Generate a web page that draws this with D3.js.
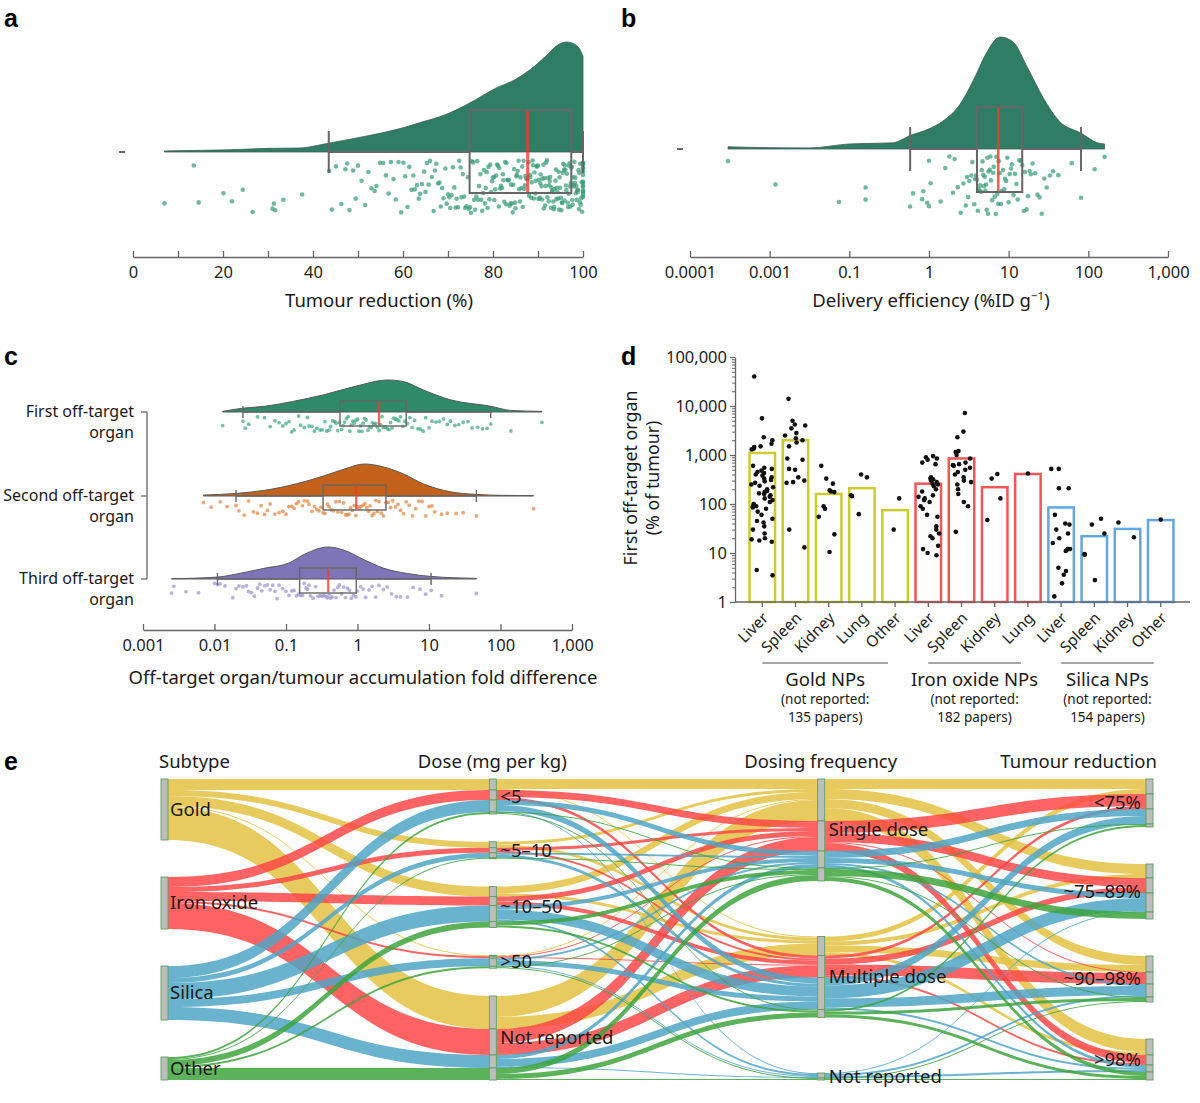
<!DOCTYPE html>
<html><head><meta charset="utf-8">
<script src="https://cdn.jsdelivr.net/npm/d3@7"></script>
<style>
body{margin:0;background:#fff}
svg text{font-family:'Noto Sans','DejaVu Sans',sans-serif;fill:#1a1a1a}
</style></head>
<body><svg id="fig" width="1200" height="1103"></svg>
<script>
// ---------------- DATA ----------------
// Panel a: tumour reduction (%)
const tumourReduction = [7.0,13.5,14.6,20.1,22.0,24.4,26.6,31.0,31.3,31.6,33.4,37.6,
43.6,44.2,45.1,46.3,47.2,47.6,48.1,48.9,49.5,50.0,50.8,51.6,52.3,53.0,53.7,54.1,54.9,55.6,56.2,56.8,57.3,57.9,58.4,59.0,59.6,
60.1,60.5,61.0,61.4,61.9,62.3,62.6,63.1,63.5,63.8,64.2,64.7,65.0,65.3,65.7,66.0,66.4,66.8,67.1,67.4,67.8,68.1,68.4,68.7,69.0,69.4,69.7,70.0,70.3,70.5,70.8,71.1,71.4,71.7,71.9,72.2,72.5,72.8,73.0,73.3,73.6,73.8,74.1,74.4,74.6,74.9,
75.1,75.3,75.6,75.8,76.0,76.3,76.5,76.7,76.9,77.2,77.4,77.6,77.8,78.0,78.2,78.4,78.6,78.8,79.0,79.2,79.4,79.6,79.8,80.0,80.2,80.3,80.5,80.7,80.9,81.1,81.3,81.4,81.6,81.8,82.0,82.2,82.3,82.5,82.7,82.9,83.0,83.2,83.4,83.5,83.7,83.9,84.0,84.2,84.4,84.5,84.7,84.9,85.0,85.2,85.3,85.5,85.7,85.8,86.0,86.1,86.3,86.5,86.6,86.8,86.9,87.1,87.2,87.4,87.6,87.7,87.9,88.0,88.2,88.3,88.5,88.6,88.8,88.9,89.1,89.2,89.4,89.5,89.7,89.8,
90.0,90.1,90.2,90.4,90.5,90.6,90.8,90.9,91.0,91.2,91.3,91.4,91.6,91.7,91.8,92.0,92.1,92.2,92.4,92.5,92.6,92.7,92.9,93.0,93.1,93.2,93.4,93.5,93.6,93.7,93.9,94.0,94.1,94.2,94.3,94.5,94.6,94.7,94.8,94.9,95.1,95.2,95.3,95.4,95.5,95.6,95.8,95.9,96.0,96.1,96.2,96.3,96.4,96.6,96.7,96.8,96.9,97.0,97.1,97.2,97.3,97.4,97.5,97.6,97.7,97.8,97.9,98.0,98.1,98.2,98.3,98.4,98.5,98.6,98.7,98.8,98.9,99.0,99.1,99.2,99.3,99.4,99.5,99.6,99.7,99.8,99.9,100,100,100,100,100,100,100,100,100,100,100,100,100,100,100,100];
const densityA = [[7,0.01],[15,0.015],[21.5,0.02],[30,0.033],[37,0.036],[41,0.06],[43.5,0.08],[50,0.13],[56,0.18],[60,0.22],[64,0.27],[69.5,0.34],[74.6,0.44],[80.6,0.58],[85,0.66],[88.3,0.75],[91.7,0.87],[94.3,0.97],[96.4,1.0],[98.1,0.98],[99.2,0.94],[100,0.87]];
const boxA = [43.5, 74.8, 87.7, 97.4, 100]; // whiskerLow, q1, median, q3, whiskerHigh
const aTicks = [0,10,20,30,40,50,60,70,80,90,100];
const aTickLabels = ["0","","20","","40","","60","","80","","100"];

// Panel b: delivery efficiency (%ID g-1)
const deliveryEff = [0.0003,0.0014,0.055,0.16,0.16,0.58,0.63,0.82,0.85,0.95,1.0,1.0,1.05,1.4,1.6,1.8,2.0,2.1,2.3,2.5,2.7,2.9,3.0,3.1,3.2,3.4,3.5,3.7,3.8,3.9,4.0,4.1,4.2,4.3,4.4,4.5,4.6,4.7,4.8,4.9,5.0,5.1,5.2,5.3,5.4,5.5,5.6,5.8,5.9,6.0,6.2,6.4,6.5,6.7,6.9,7.0,7.2,7.4,7.5,7.7,8.0,8.2,8.5,8.8,9.0,9.3,9.6,10.0,10.3,10.7,11.0,11.5,12.0,12.5,13.0,13.6,14.2,14.8,15.5,16.0,16.8,17.5,18.3,19.0,20.0,21.5,23.0,24.5,26.0,28.0,30.0,33.0,36.0,42.0,62.0,81.0,120.0,160.0];
const densityB = [[0.0003,0.02],[0.001,0.012],[0.01,0.01],[0.1,0.045],[0.35,0.055],[0.58,0.12],[1,0.18],[1.5,0.25],[2.4,0.39],[3.7,0.63],[5.1,0.84],[7.8,1.0],[11.2,0.96],[17.4,0.72],[27,0.46],[43,0.25],[82,0.14],[130,0.055],[160,0.045]];
const boxB = [0.58, 4.0, 7.4, 14.8, 81];
const bTicks = [0.0001,0.001,0.1,1,10,100,1000];
const bTickLabels = ["0.0001","0.001","0.1","1","10","100","1,000"];

// Panel c: off-target organ / tumour fold difference
const cRows = ["First off-target|organ","Second off-target|organ","Third off-target|organ"];
const firstOrgan = [0.013,0.025,0.027,0.03,0.04,0.05,0.06,0.07,0.08,0.09,0.1,0.11,0.12,0.13,0.15,0.16,0.18,0.2,0.21,0.23,0.25,0.27,0.3,0.32,0.35,0.37,0.4,0.42,0.45,0.48,0.5,0.53,0.56,0.6,0.63,0.66,0.7,0.74,0.78,0.82,0.86,0.9,0.95,1.0,1.05,1.1,1.15,1.2,1.26,1.32,1.4,1.47,1.55,1.62,1.7,1.8,1.9,2.0,2.1,2.2,2.3,2.45,2.6,2.75,2.9,3.05,3.2,3.4,3.6,3.8,4.0,4.3,4.6,5.0,5.4,5.8,6.3,7.0,7.6,8.3,9.0,10,11,12.5,14,16,18,20,23,26,30,35,40,48,56,65,73,140,380];
const secondOrgan = [0.007,0.009,0.012,0.015,0.02,0.022,0.026,0.03,0.035,0.04,0.045,0.05,0.055,0.06,0.07,0.08,0.09,0.1,0.11,0.12,0.13,0.14,0.15,0.17,0.18,0.2,0.21,0.23,0.25,0.27,0.29,0.31,0.33,0.35,0.38,0.4,0.43,0.46,0.5,0.53,0.56,0.6,0.64,0.68,0.72,0.76,0.8,0.85,0.9,0.95,1.0,1.06,1.12,1.2,1.27,1.35,1.43,1.5,1.6,1.7,1.8,1.9,2.0,2.15,2.3,2.5,2.7,2.9,3.1,3.4,3.7,4.0,4.4,4.8,5.3,5.9,6.5,7.2,8.0,9.0,10,11,12,15,18,24,30,46,290];
const thirdOrgan = [0.0025,0.0027,0.004,0.006,0.01,0.011,0.012,0.014,0.018,0.02,0.022,0.025,0.028,0.03,0.033,0.036,0.04,0.043,0.046,0.05,0.055,0.06,0.065,0.07,0.075,0.08,0.09,0.1,0.11,0.12,0.13,0.14,0.15,0.16,0.17,0.18,0.19,0.2,0.21,0.22,0.24,0.26,0.28,0.3,0.32,0.34,0.36,0.38,0.4,0.42,0.44,0.47,0.5,0.53,0.56,0.6,0.64,0.68,0.72,0.77,0.82,0.88,0.95,1.0,1.1,1.2,1.3,1.45,1.6,1.8,2.0,2.3,2.6,3.0,3.5,4.0,5.0,6.0,7.5,9.0,10.7,15,46];
const densC1 = [[0.013,0.02],[0.025,0.12],[0.051,0.18],[0.124,0.33],[0.34,0.54],[0.96,0.81],[2.65,1.0],[4.4,0.95],[8.3,0.69],[20,0.38],[73,0.18],[138,0.05],[380,0.02]];
const densC2 = [[0.007,0.03],[0.02,0.08],[0.051,0.18],[0.14,0.38],[0.35,0.64],[0.65,0.84],[1.24,1.0],[2.3,0.91],[4.4,0.69],[8.3,0.38],[20,0.13],[46,0.05],[107,0.02],[290,0.01]];
const densC3 = [[0.0025,0.01],[0.011,0.06],[0.023,0.18],[0.051,0.34],[0.11,0.5],[0.18,0.77],[0.39,1.0],[0.65,0.9],[1.24,0.6],[2.3,0.34],[5,0.17],[10.7,0.08],[46,0.02]];
const boxC = [[0.025,0.57,2.0,4.8,73],[0.02,0.33,0.96,2.5,46],[0.011,0.155,0.39,0.96,10.7]];
const cTicks = [0.001,0.01,0.1,1,10,100,1000];
const cTickLabels = ["0.001","0.01","0.1","1","10","100","1,000"];

// Panel d: first off-target organ (% of tumour)
const organs = ["Liver","Spleen","Kidney","Lung","Other","Liver","Spleen","Kidney","Lung","Liver","Spleen","Kidney","Other"];
const barGroup = [0,0,0,0,0,1,1,1,1,2,2,2,2];
const barValues = [1100,2000,160,210,75,260,850,220,410,85,22,31,47];
const groupNames = ["Gold NPs","Iron oxide NPs","Silica NPs"];
const groupNotReported = [135,182,154];
const dotsGoldLiver = [40000,5600,2300,2000,1700,1500,1450,1350,1300,600,550,520,480,450,430,400,380,350,330,310,290,270,250,235,220,200,185,175,165,160,150,140,130,120,110,100,95,90,88,85,80,70,60,50,45,42,35,30,25,20,19,18,17,4.5,3.5];
const dotsGoldSpleen = [14000,5000,4200,4000,3500,2800,2500,2200,2000,1800,1500,850,800,520,500,350,300,280,270,30,13];
const dotsGoldKidney = [600,330,260,190,180,175,90,80,55,24,10.5];
const dotsGoldLung = [400,350,150,145,62];
const dotsGoldOther = [130,30];
const dotsIronLiver = [950,900,850,800,700,650,350,330,320,300,280,260,250,230,200,180,150,140,130,120,110,90,80,60,55,35,30,25,22,20,14,12,10,9];
const dotsIronSpleen = [7200,3000,2300,1200,1150,1000,850,700,650,620,600,550,500,450,400,350,300,280,250,200,160,110,90,27];
const dotsIronKidney = [410,330,130,47];
const dotsIronLung = [420];
const dotsSilicaLiver = [520,520,210,210,60,40,38,30,25,20,16,12,12,12,11,5,4.3,3.6,2.4,1.3];
const dotsSilicaSpleen = [50,38,25,9.5,9.2,2.8];
const dotsSilicaKidney = [42,21];
const dotsSilicaOther = [48];
const barDots = [dotsGoldLiver,dotsGoldSpleen,dotsGoldKidney,dotsGoldLung,dotsGoldOther,dotsIronLiver,dotsIronSpleen,dotsIronKidney,dotsIronLung,dotsSilicaLiver,dotsSilicaSpleen,dotsSilicaKidney,dotsSilicaOther];
const dTicks = [1,10,100,1000,10000,100000];
const dTickLabels = ["1","10","100","1,000","10,000","100,000"];

// Panel e: alluvial diagram
const subtypes = ["Gold","Iron oxide","Silica","Other"];
const doses = ["<5","~5–10","~10–50",">50","Not reported"];
const freqs = ["Single dose","Multiple dose","Not reported"];
const reductions = ["<75%","~75–89%","~90–98%",">98%"];
const axisTitles = ["Subtype","Dose (mg per kg)","Dosing frequency","Tumour reduction"];
// [doseIdx, freqIdx, reductionIdx, count]
const goldFlows = [[0,0,0,9],[0,0,1,1],[0,1,3,1],[1,0,2,3],[1,1,1,3],[2,0,1,4],[2,1,2,3],[2,0,3,3],[3,0,0,1],[4,0,3,10],[4,0,2,6],[4,0,1,5],[4,1,2,4],[4,1,0,5],[4,1,1,1],[4,1,3,2]];
const ironFlows = [[0,0,0,6],[0,1,1,3],[0,0,3,1],[1,0,1,3],[1,1,3,2],[2,0,0,4],[2,1,2,4],[2,0,3,1],[3,0,2,1],[3,1,1,1],[4,0,1,6],[4,1,2,7],[4,0,3,6],[4,0,0,2],[4,1,0,3],[4,1,1,2]];
const silicaFlows = [[0,0,0,5],[0,1,1,5],[0,2,2,1],[0,1,3,1],[1,1,1,3],[1,0,2,2],[2,1,0,6],[2,0,1,4],[2,1,2,4],[2,2,3,2],[3,1,1,4],[3,0,0,2],[3,2,2,1],[3,1,3,1],[4,1,2,5],[4,0,3,3],[4,1,0,2],[4,2,1,1],[4,1,1,1],[4,0,1,1]];
const otherFlows = [[0,0,1,1],[0,1,3,1],[1,0,0,1],[2,0,1,3],[2,1,3,2],[2,0,2,1],[3,0,1,1],[3,2,3,1],[4,0,3,4],[4,1,2,3],[4,0,1,2],[4,1,0,2],[4,2,2,1]];

// ---------------- DRAWING ----------------
const svg = d3.select("#fig");
const GREY = "#666";
// deterministic jitter (positions only)
const hash = (i, s) => { const v = Math.sin(i * 127.1 + s * 311.7) * 43758.5453; return v - Math.floor(v); };

function panelLabel(t, x, y) {
  svg.append("text").attr("x", x).attr("y", y).text(t)
    .style("font-family", "'Liberation Sans',Arial,sans-serif").style("font-weight", "bold").style("font-size", "25px").style("fill", "#000");
}
function styleAxis(g, fs) {
  g.select(".domain").attr("stroke", GREY).attr("stroke-width", 1.3);
  g.selectAll(".tick line").attr("stroke", GREY).attr("stroke-width", 1.3);
  g.selectAll(".tick text").style("font-size", fs + "px").style("fill", "#222");
}

function raincloud(x, dens, box, vals, base, peak, opts) {
  const yD = d3.scaleLinear().domain([0, 1]).range([base, base - peak]);
  const area = d3.area().x(d => x(d[0])).y0(base).y1(d => yD(d[1])).curve(d3.curveMonotoneX);
  svg.append("path").datum(dens).attr("d", area).attr("fill", opts.fill)
    .attr("stroke", opts.outline).attr("stroke-width", opts.outlineW);
  svg.append("g").selectAll("circle").data(vals).join("circle")
    .attr("cx", d => x(d))
    .attr("cy", (d, i) => base + opts.dotTop + hash(i, opts.seed) * (opts.dotBot - opts.dotTop))
    .attr("r", opts.r).attr("fill", opts.dot);
  const [wl, q1, med, q3, wh] = box;
  const g = svg.append("g").attr("stroke", GREY).attr("fill", "none").attr("stroke-width", opts.boxW);
  g.append("rect").attr("x", x(q1)).attr("y", base - opts.boxUp).attr("width", x(q3) - x(q1)).attr("height", opts.boxUp + opts.boxDown);
  g.append("line").attr("x1", x(wl)).attr("x2", x(q1)).attr("y1", base).attr("y2", base);
  g.append("line").attr("x1", x(q3)).attr("x2", x(wh)).attr("y1", base).attr("y2", base);
  [wl, wh].forEach(w => g.append("line").attr("x1", x(w)).attr("x2", x(w)).attr("y1", base - opts.whisk).attr("y2", base + opts.whisk));
  svg.append("line").attr("x1", x(med)).attr("x2", x(med)).attr("y1", base - opts.boxUp + 1).attr("y2", base + opts.boxDown - 1)
    .attr("stroke", "#ee3b30").attr("stroke-opacity", 0.8).attr("stroke-width", opts.medW);
}

// ----- Panel a -----
panelLabel("a", 4, 27);
const ax = d3.scaleLinear().domain([0, 100]).range([133, 583]);
raincloud(ax, densityA, boxA, tumourReduction, 152, 110, {
  fill: "#2f7d64", outline: "#3f5f55", outlineW: 0.8, dot: "rgba(58,158,120,0.72)", r: 2.3, seed: 1,
  dotTop: 8, dotBot: 61, boxUp: 42, boxDown: 41, whisk: 21, boxW: 2, medW: 3
});
svg.append("line").attr("x1", 119).attr("x2", 125).attr("y1", 152).attr("y2", 152).attr("stroke", "#333").attr("stroke-width", 1.5);
const gAx = svg.append("g").attr("transform", "translate(0,257)")
  .call(d3.axisBottom(ax).tickValues(aTicks).tickSizeInner(-6).tickSizeOuter(0).tickPadding(9).tickFormat((d, i) => aTickLabels[i]));
styleAxis(gAx, 16.5);
svg.append("text").attr("x", 379).attr("y", 307).attr("text-anchor", "middle").style("font-size", "18.5px").text("Tumour reduction (%)");

// ----- Panel b -----
panelLabel("b", 621, 27);
const bx = d3.scaleLog().domain(bTicks).range(bTicks.map((d, i) => 690 + i * (1168 - 690) / 6));
raincloud(bx, densityB, boxB, deliveryEff, 149, 112, {
  fill: "#2f7d64", outline: "#3f5f55", outlineW: 0.8, dot: "rgba(58,158,120,0.72)", r: 2.3, seed: 2,
  dotTop: 7, dotBot: 66, boxUp: 42, boxDown: 43, whisk: 22, boxW: 2, medW: 2.6
});
svg.append("line").attr("x1", 677).attr("x2", 683).attr("y1", 149).attr("y2", 149).attr("stroke", "#333").attr("stroke-width", 1.5);
const gBx = svg.append("g").attr("transform", "translate(0,257)")
  .call(d3.axisBottom(bx).tickValues(bTicks).tickSizeInner(-6).tickSizeOuter(0).tickPadding(9).tickFormat((d, i) => bTickLabels[i]));
styleAxis(gBx, 16.5);
const bt = svg.append("text").attr("x", 931).attr("y", 307).attr("text-anchor", "middle").style("font-size", "18.5px");
bt.append("tspan").text("Delivery efficiency (%ID g");
bt.append("tspan").attr("dy", -7).style("font-size", "11.5px").text("−1");
bt.append("tspan").attr("dy", 7).text(")");

// ----- Panel c -----
panelLabel("c", 4, 365);
const cx = d3.scaleLog().domain([0.001, 1000]).range([143, 572]);
const cBases = [412, 496, 579];
const cFills = ["#2e8a69", "#c4621c", "#7d75b8"];
const cDots = ["rgba(60,165,125,0.7)", "rgba(225,135,65,0.72)", "rgba(155,150,205,0.72)"];
const cDens = [densC1, densC2, densC3];
const cVals = [firstOrgan, secondOrgan, thirdOrgan];
cBases.forEach((b, k) => {
  raincloud(cx, cDens[k], boxC[k], cVals[k], b, 32, {
    fill: cFills[k], outline: "#5a5a5a", outlineW: 1, dot: cDots[k], r: 1.9, seed: 3 + k,
    dotTop: 4, dotBot: 20, boxUp: 11, boxDown: 14, whisk: 6, boxW: 1.4, medW: 2.2
  });
});
svg.append("line").attr("x1", 147).attr("x2", 147).attr("y1", cBases[0]).attr("y2", cBases[2]).attr("stroke", GREY).attr("stroke-width", 1.3);
cBases.forEach((b, k) => {
  svg.append("line").attr("x1", 141).attr("x2", 147).attr("y1", b).attr("y2", b).attr("stroke", GREY).attr("stroke-width", 1.3);
  const parts = cRows[k].split("|");
  parts.forEach((p, j) => svg.append("text").attr("x", 134).attr("y", b + 5 + j * 21).attr("text-anchor", "end").style("font-size", "16px").text(p));
});
const gCx = svg.append("g").attr("transform", "translate(0,630)")
  .call(d3.axisBottom(cx).tickValues(cTicks).tickSizeInner(-6).tickSizeOuter(0).tickPadding(9).tickFormat((d, i) => cTickLabels[i]));
styleAxis(gCx, 16.5);
svg.append("text").attr("x", 363).attr("y", 684).attr("text-anchor", "middle").style("font-size", "18.5px").text("Off-target organ/tumour accumulation fold difference");

// ----- Panel d -----
panelLabel("d", 621, 365);
const dy = d3.scaleLog().domain([1, 100000]).range([602, 357]);
const dxs = d3.scaleBand().domain(organs.map((d, i) => i)).range([745, 1178]).paddingInner(0.16).paddingOuter(0.1);
const groupColors = ["#cccc2e", "#f05757", "#62a6e2"];
svg.append("g").selectAll("rect").data(barValues).join("rect")
  .attr("x", (d, i) => dxs(i) + 1.2).attr("width", dxs.bandwidth() - 2.4)
  .attr("y", d => dy(d)).attr("height", d => dy(1) - dy(d))
  .attr("fill", "none").attr("stroke", (d, i) => groupColors[barGroup[i]]).attr("stroke-width", 2.5);
barDots.forEach((arr, i) => {
  const c = dxs(i) + dxs.bandwidth() / 2;
  svg.append("g").selectAll("circle").data(arr).join("circle")
    .attr("cx", (d, j) => c + (arr.length > 1 ? (hash(j, 10 + i) - 0.5) * 22 : 0))
    .attr("cy", d => dy(d)).attr("r", 2.3).attr("fill", "#111");
});
const minorD = [];
[1, 10, 100, 1000, 10000].forEach(p => [2, 3, 4, 5, 6, 7, 8, 9].forEach(m => minorD.push(p * m)));
const gDyMin = svg.append("g").attr("transform", "translate(735,0)")
  .call(d3.axisLeft(dy).tickValues(minorD).tickSize(3).tickFormat(""));
gDyMin.select(".domain").remove();
gDyMin.selectAll(".tick line").attr("stroke", GREY).attr("stroke-width", 1);
const gDy = svg.append("g").attr("transform", "translate(735,0)")
  .call(d3.axisLeft(dy).tickValues(dTicks).tickSizeInner(5).tickSizeOuter(0).tickPadding(3).tickFormat((d, i) => dTickLabels[i]));
styleAxis(gDy, 16.5);
const gDx = svg.append("g").attr("transform", "translate(0,602)")
  .call(d3.axisBottom(dxs).tickSizeInner(5).tickSizeOuter(0).tickFormat(i => organs[i]));
styleAxis(gDx, 15.5);
gDx.select(".domain").attr("d", "M735,0H1190");
gDx.selectAll(".tick text").attr("text-anchor", "end").attr("dy", 0).attr("y", 0)
  .attr("transform", "translate(7,17) rotate(-45)");
const yl = svg.append("text").attr("transform", "translate(637,478) rotate(-90)").attr("text-anchor", "middle").style("font-size", "17.8px");
yl.append("tspan").attr("x", 0).attr("dy", 0).text("First off-target organ");
yl.append("tspan").attr("x", 0).attr("dy", 22).text("(% of tumour)");
[0, 1, 2].forEach(g => {
  const idx = barGroup.map((b, i) => b === g ? i : -1).filter(i => i >= 0);
  const x0 = dxs(idx[0]) + dxs.bandwidth() / 2, x1 = dxs(idx[idx.length - 1]) + dxs.bandwidth() / 2 - 7;
  const xm = (x0 + x1) / 2;
  svg.append("line").attr("x1", x0).attr("x2", x1).attr("y1", 663).attr("y2", 663).attr("stroke", "#888").attr("stroke-width", 1.3);
  svg.append("text").attr("x", xm).attr("y", 686).attr("text-anchor", "middle").style("font-size", "18.5px").text(groupNames[g]);
  svg.append("text").attr("x", xm).attr("y", 704).attr("text-anchor", "middle").style("font-size", "13.5px").text("(not reported:");
  svg.append("text").attr("x", xm).attr("y", 722).attr("text-anchor", "middle").style("font-size", "13.5px").text(groupNotReported[g] + " papers)");
});

// ----- Panel e -----
panelLabel("e", 4, 770);
const eColors = ["#e2c140", "#ff4545", "#4ea5c6", "#3ba33b"];
const allFlows = [goldFlows, ironFlows, silicaFlows, otherFlows];
const alluvia = [];
allFlows.forEach((arr, s) => arr.forEach(([d, f, r, n]) => alluvia.push({ k: [s, d, f, r], n })));
const axesCats = [subtypes, doses, freqs, reductions];
const eTop = 779, eBot = 1080, nodeW = 7;
const total = d3.sum(alluvia, a => a.n);
const hs = d3.scaleLinear().domain([0, total]).range([0, 190]);
const ex = d3.scalePoint().domain([0, 1, 2, 3]).range([161, 1146]);
// node layout
const nodesByCol = axesCats.map((cats, c) => {
  const counts = cats.map((_, j) => d3.sum(alluvia.filter(a => a.k[c] === j), a => a.n));
  const gap = (eBot - eTop - hs(total)) / (cats.length - 1);
  let y = eTop;
  return cats.map((name, j) => {
    const bySub = [0, 1, 2, 3].map(s => d3.sum(alluvia.filter(a => a.k[c] === j && a.k[0] === s), a => a.n));
    const nd = { c, j, name, y0: y, y1: y + hs(counts[j]), bySub };
    y += hs(counts[j]) + gap;
    return nd;
  });
});
// flows between adjacent axes, aggregated by (subtype, left stratum, right stratum)
const segments = [];
for (let c = 0; c < 3; c++) {
  const agg = d3.rollups(alluvia, v => d3.sum(v, a => a.n), a => a.k[0], a => a.k[c], a => a.k[c + 1]);
  const flows = [];
  agg.forEach(([s, l1]) => l1.forEach(([na, l2]) => l2.forEach(([nb, n]) => flows.push({ c, s, na, nb, h: hs(n) }))));
  nodesByCol[c].forEach(nd => {
    let y = nd.y0;
    flows.filter(f => f.na === nd.j).sort((p, q) => p.s - q.s || p.nb - q.nb).forEach(f => { f.ya = y; y += f.h; });
  });
  nodesByCol[c + 1].forEach(nd => {
    let y = nd.y0;
    flows.filter(f => f.nb === nd.j).sort((p, q) => p.s - q.s || p.na - q.na).forEach(f => { f.yb = y; y += f.h; });
  });
  segments.push(...flows);
}
function ribbonPath(x0, ya, x1, yb, h) {
  const xm = (x0 + x1) / 2;
  return `M${x0},${ya}C${xm},${ya} ${xm},${yb} ${x1},${yb}L${x1},${yb + h}C${xm},${yb + h} ${xm},${ya + h} ${x0},${ya + h}Z`;
}
svg.append("g").selectAll("path").data(segments.sort((a, b) => a.s - b.s)).join("path")
  .attr("d", d => ribbonPath(ex(d.c) + nodeW, d.ya, ex(d.c + 1), d.yb, d.h))
  .attr("fill", d => eColors[d.s]).attr("fill-opacity", 0.84);
nodesByCol.flat().forEach(nd => {
  let segs;
  if (nd.c === 0) segs = [[nd.y0, nd.y1]];
  else {
    segs = []; let y = nd.y0;
    nd.bySub.forEach(n => { if (n > 0) { segs.push([y, y + hs(n)]); y += hs(n); } });
  }
  segs.forEach(([a, b]) => svg.append("rect").attr("x", ex(nd.c)).attr("y", a).attr("width", nodeW).attr("height", b - a)
    .attr("fill", "#bdbdbd").attr("stroke", "#5e9e5e").attr("stroke-width", 0.9));
  const ty = (nd.y0 + nd.y1) / 2;
  const t = svg.append("text").attr("y", ty).attr("dy", "0.35em").style("font-size", "18.5px").text(nd.name);
  if (nd.c === 3) t.attr("x", ex(3) - 5).attr("text-anchor", "end");
  else t.attr("x", ex(nd.c) + nodeW + (nd.c === 0 ? 2 : 4));
});
axisTitles.forEach((t, c) => {
  const el = svg.append("text").attr("y", 768).style("font-size", "18.5px").text(t);
  if (c === 0) el.attr("x", 159);
  else if (c === 3) el.attr("x", 1157).attr("text-anchor", "end");
  else el.attr("x", ex(c) + 3).attr("text-anchor", "middle");
});
</script>
</body></html>
